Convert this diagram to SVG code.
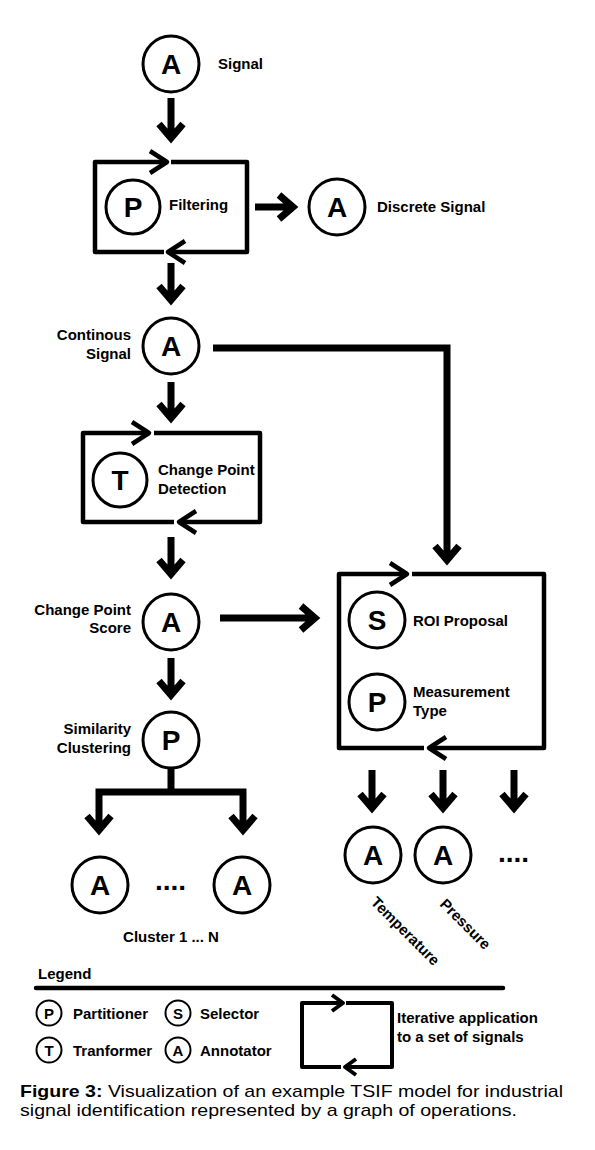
<svg xmlns="http://www.w3.org/2000/svg" width="595" height="1150" viewBox="0 0 595 1150">
<style>
.bg{fill:#fff}
.c{fill:#fff;stroke:#000;stroke-width:3}
.cl{fill:#fff;stroke:#000;stroke-width:2}
.L{font-family:"Liberation Sans",Arial,sans-serif;font-weight:bold;font-size:28px;text-anchor:middle;fill:#000}
.Ls{font-family:"Liberation Sans",Arial,sans-serif;font-weight:bold;font-size:15px;text-anchor:middle;fill:#000}
.t{font-family:"Liberation Sans",Arial,sans-serif;font-weight:bold;font-size:15px;fill:#000}
.r{text-anchor:end}
.m{text-anchor:middle}
.arr{fill:none;stroke:#000;stroke-width:7;stroke-linejoin:miter;stroke-miterlimit:10}
.box{fill:none;stroke:#000;stroke-width:4.5;stroke-linejoin:round}
.bx2{fill:none;stroke:#000;stroke-width:4;stroke-linejoin:round}
.dots{font-family:"Liberation Sans",Arial,sans-serif;font-weight:bold;font-size:28px;fill:#000}
.cap{font-family:"Liberation Sans",Arial,sans-serif;font-size:17px;fill:#000}
</style>
<rect class="bg" x="0" y="0" width="595" height="1150"/>

<g id="connectors">
<path class="arr" d="M171,98 V135 M159,124 L171,138 L183,124"/>
<path class="arr" d="M255,207 H290 M279,195 L293,207 L279,219"/>
<path class="arr" d="M171,263 V297 M159,286 L171,300 L183,286"/>
<path class="arr" d="M171,382 V415 M159,404 L171,418 L183,404"/>
<path class="arr" d="M171,537 V571 M159,560 L171,574 L183,560"/>
<path class="arr" d="M220,618 H312 M301,606 L315,618 L301,630"/>
<path class="arr" d="M213,348 H447 V557 M435,546 L447,560 L459,546"/>
<path class="arr" d="M171,658 V692 M159,681 L171,695 L183,681"/>
<path class="arr" d="M171,769 V792 M99,827 V792 H243 V827 M87,816 L99,830 L111,816 M231,816 L243,830 L255,816"/>
<path class="arr" d="M372,770 V805 M360,794 L372,808 L384,794"/>
<path class="arr" d="M443,770 V805 M431,794 L443,808 L455,794"/>
<path class="arr" d="M514,770 V805 M502,794 L514,808 L526,794"/>
</g>

<g id="filtering-box">
<path class="box" d="M164,252 H95 V162 H166"/>
<path class="box" d="M150,151 L167,162 L150,173"/>
<path class="box" d="M171,162 H247 V252 H168"/>
<path class="box" d="M185,241 L168,252 L185,263"/>
</g>
<g id="cpd-box">
<path class="box" d="M174,522 H83 V433 H149"/>
<path class="box" d="M132,422 L149,433 L132,444"/>
<path class="box" d="M154,433 H260 V522 H179"/>
<path class="box" d="M196,511 L179,522 L196,533"/>
</g>
<g id="roi-box">
<path class="box" d="M424,748 H339 V574 H407"/>
<path class="box" d="M390,563 L407,574 L390,585"/>
<path class="box" d="M412,574 H544 V748 H429"/>
<path class="box" d="M446,737 L429,748 L446,759"/>
</g>

<g id="signal">
<circle class="c" cx="171" cy="64" r="28"/>
<text class="L" x="171" y="74">A</text>
<text class="t" x="218" y="69">Signal</text>
</g>
<g id="filtering">
<circle class="c" cx="133" cy="207" r="27"/>
<text class="L" x="133" y="217">P</text>
<text class="t" x="169" y="210">Filtering</text>
</g>
<g id="discrete-signal">
<circle class="c" cx="337" cy="207" r="28"/>
<text class="L" x="337" y="217">A</text>
<text class="t" x="377" y="212">Discrete Signal</text>
</g>
<g id="continous-signal">
<circle class="c" cx="171" cy="346" r="28"/>
<text class="L" x="171" y="356">A</text>
<text class="t r" x="131" y="340">Continous</text>
<text class="t r" x="131" y="359">Signal</text>
</g>
<g id="change-point-detection">
<circle class="c" cx="120" cy="480" r="27"/>
<text class="L" x="120" y="490">T</text>
<text class="t" x="158" y="475">Change Point</text>
<text class="t" x="158" y="494">Detection</text>
</g>
<g id="change-point-score">
<circle class="c" cx="171" cy="622" r="28"/>
<text class="L" x="171" y="632">A</text>
<text class="t r" x="131" y="615">Change Point</text>
<text class="t r" x="131" y="633">Score</text>
</g>
<g id="similarity-clustering">
<circle class="c" cx="171" cy="740" r="28"/>
<text class="L" x="171" y="750">P</text>
<text class="t r" x="131" y="734">Similarity</text>
<text class="t r" x="131" y="753">Clustering</text>
</g>
<g id="cluster-1">
<circle class="c" cx="100" cy="885" r="28"/>
<text class="L" x="100" y="895">A</text>
</g>
<g id="cluster-n">
<circle class="c" cx="242" cy="885" r="28"/>
<text class="L" x="242" y="895">A</text>
</g>
<text class="dots" x="155" y="890">....</text>
<text class="t m" x="171" y="942">Cluster 1 ... N</text>

<g id="roi-proposal">
<circle class="c" cx="377" cy="620" r="28"/>
<text class="L" x="377" y="630">S</text>
<text class="t" x="413" y="626">ROI Proposal</text>
</g>
<g id="measurement-type">
<circle class="c" cx="377" cy="702" r="28"/>
<text class="L" x="377" y="712">P</text>
<text class="t" x="413" y="697">Measurement</text>
<text class="t" x="413" y="716">Type</text>
</g>
<g id="temperature">
<circle class="c" cx="373" cy="855" r="28"/>
<text class="L" x="373" y="865">A</text>
<text class="t" transform="translate(370,903) rotate(45)">Temperature</text>
</g>
<g id="pressure">
<circle class="c" cx="443" cy="855" r="28"/>
<text class="L" x="443" y="865">A</text>
<text class="t" transform="translate(439,905) rotate(45)">Pressure</text>
</g>
<text class="dots" x="498" y="862">....</text>

<g id="legend">
<text class="t" x="38" y="979">Legend</text>
<line x1="36" y1="988" x2="503" y2="988" stroke="#000" stroke-width="4.5" stroke-linecap="round"/>
<circle class="cl" cx="49" cy="1013" r="12.5"/>
<text class="Ls" x="49" y="1018.5">P</text>
<text class="t" x="73" y="1019">Partitioner</text>
<circle class="cl" cx="178" cy="1013" r="12.5"/>
<text class="Ls" x="178" y="1018.5">S</text>
<text class="t" x="200" y="1019">Selector</text>
<circle class="cl" cx="49" cy="1050" r="12.5"/>
<text class="Ls" x="49" y="1055.5">T</text>
<text class="t" x="73" y="1056">Tranformer</text>
<circle class="cl" cx="178" cy="1050" r="12.5"/>
<text class="Ls" x="178" y="1055.5">A</text>
<text class="t" x="200" y="1056">Annotator</text>
<path class="bx2" d="M341,1067 H302 V1003 H342"/>
<path class="bx2" d="M332,995 L343,1003 L332,1011"/>
<path class="bx2" d="M346,1003 H392 V1067 H346"/>
<path class="bx2" d="M356,1059 L345,1067 L356,1075"/>
<text class="t" x="397" y="1023">Iterative application</text>
<text class="t" x="397" y="1042">to a set of signals</text>
</g>

<g id="caption">
<text class="cap" x="20" y="1097" textLength="543" lengthAdjust="spacingAndGlyphs"><tspan font-weight="bold">Figure  3:</tspan> Visualization of an example TSIF model for industrial</text>
<text class="cap" x="20" y="1116" textLength="497" lengthAdjust="spacingAndGlyphs">signal identification represented by a graph of operations.</text>
</g>
</svg>
